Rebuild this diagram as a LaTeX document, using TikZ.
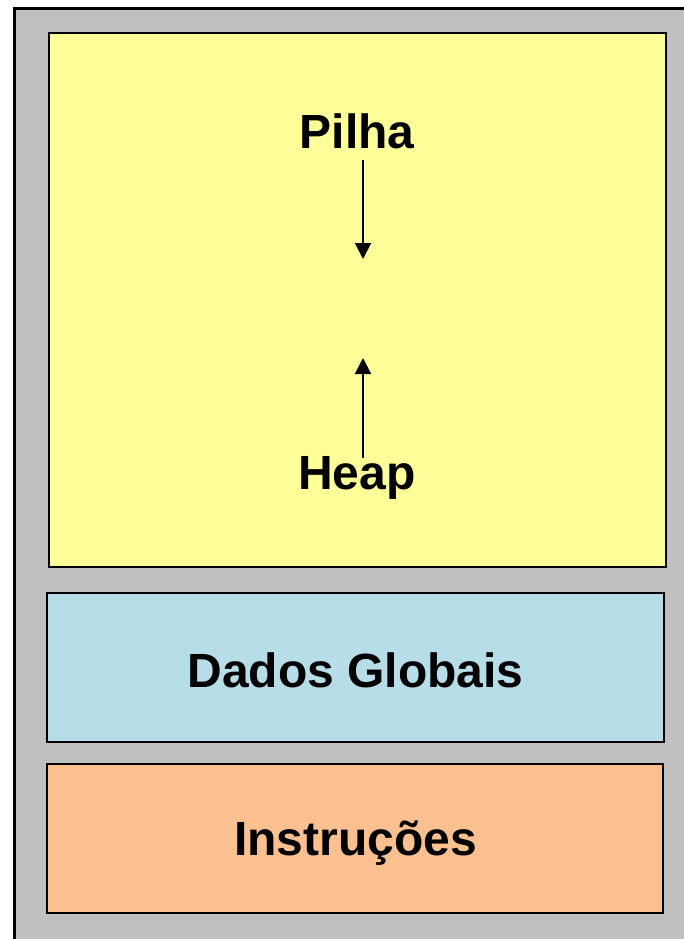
\documentclass[tikz,border=0pt]{standalone}
\usepackage{fontspec}
\setmainfont{Liberation Sans}
\usetikzlibrary{arrows.meta}
\definecolor{memgray}{HTML}{C0C0C0}
\definecolor{stackyellow}{HTML}{FFFF99}
\definecolor{globalblue}{HTML}{B7DDE8}
\definecolor{codeorange}{HTML}{FAC090}
\tikzset{
  region/.style={draw=black, line width=2pt},
  memlabel/.style={font=\fontsize{48}{52}\selectfont\bfseries, inner sep=0pt},
  growarrow/.style={line width=2pt, -{Triangle[width=16pt,length=16pt]}}
}
\begin{document}
\begin{tikzpicture}[x=1pt,y=-1pt]
  \useasboundingbox (0,0) rectangle (684,939);
  % memory frame
  \fill[white] (0,0) rectangle (684,939);
  \filldraw[fill=memgray, draw=black, line width=3pt] (14,9) -- (700,9) -- (700,960) -- (14,960) -- cycle;
  % stack / heap area
  \filldraw[region, fill=stackyellow] (49,33) rectangle (666,567);
  % global data
  \filldraw[region, fill=globalblue] (47,593) rectangle (664,742);
  % instructions
  \filldraw[region, fill=codeorange] (47,764) rectangle (663,913);
  % text of each region
  \node[memlabel] (pilha) at (357,131) {Pilha};
  \node[memlabel] (heap) at (357,478) {Heap};
  \node[memlabel] (dados) at (355.5,670) {Dados Globais};
  \node[memlabel] (instr) at (355.5,843) {Instruções};
  % growth directions
  \coordinate (stacktip) at (363,259);
  \coordinate (heaptip) at (363,358);
  \draw[growarrow] (363,160) -- (stacktip);
  \draw[growarrow] (363,458) -- (heaptip);
\end{tikzpicture}
\end{document}
